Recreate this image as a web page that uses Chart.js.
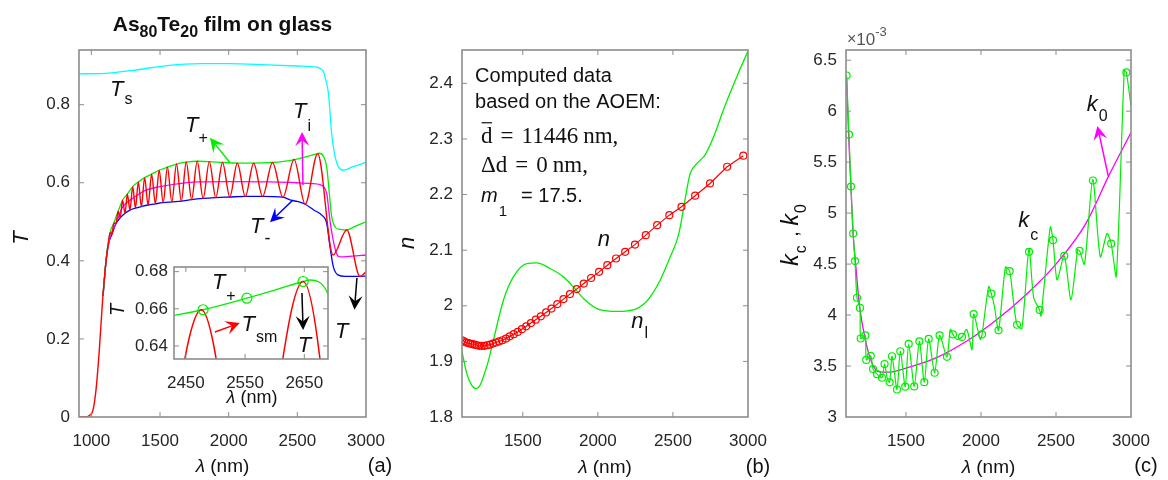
<!DOCTYPE html>
<html><head><meta charset="utf-8">
<script src="https://cdn.jsdelivr.net/npm/chart.js@4.4.1/dist/chart.umd.min.js"></script>
<style>
html,body{margin:0;padding:0;background:#fff;}
#wrap{position:relative;width:1168px;height:480px;overflow:hidden;}
canvas{position:absolute;left:0;top:0;}
</style></head><body>
<div id="wrap">
<canvas id="ca" width="1168" height="480"></canvas>
<canvas id="cb" width="1168" height="480"></canvas>
<canvas id="cc" width="1168" height="480"></canvas>
<canvas id="ci" width="1168" height="480"></canvas>
</div>
<script>
// ---------- Panel (a): transmission spectra ----------
const aXTicks=[1000,1500,2000,2500,3000];
const aXLabels=['1000','1500','2000','2500','3000'];
const aYTicks=[0,0.2,0.4,0.6,0.8];
const aYLabels=['0','0.2','0.4','0.6','0.8'];

const tsLam=[910,1100,1306,1551,1793,2000,2278,2500,2641,2665,2690,2702,2726,2750,2775,2800,2835,2906,3000];
const tsVal=[0.879,0.880,0.888,0.900,0.905,0.905,0.902,0.899,0.896,0.893,0.885,0.870,0.83,0.726,0.666,0.640,0.632,0.641,0.652];

const tpLam=[1085,1107,1136,1164,1195,1227,1262,1301,1342,1388,1439,1494,1554,1620,1691,1771,1859,1955,2063,2182,2319,2400,2479,2553,2600,2648,2660,2690,2714,2733,2750,2770,2800,2860,2920,3000];
const tpVal=[0.31,0.40,0.472,0.497,0.527,0.555,0.571,0.590,0.602,0.613,0.622,0.632,0.640,0.648,0.653,0.655,0.654,0.652,0.650,0.650,0.652,0.655,0.6595,0.6657,0.670,0.6747,0.6755,0.668,0.64,0.573,0.513,0.490,0.481,0.479,0.488,0.500];

const tmLam=[1085,1107,1122,1150,1179,1210,1245,1281,1321,1364,1413,1466,1523,1586,1655,1730,1814,1906,2008,2121,2247,2395,2447,2500,2557,2620,2678,2714,2738,2762,2795,2850,2932,3000];
const tmVal=[0.31,0.40,0.44,0.468,0.495,0.510,0.522,0.530,0.535,0.539,0.543,0.546,0.549,0.551,0.553,0.557,0.560,0.562,0.5635,0.565,0.565,0.563,0.556,0.552,0.545,0.530,0.517,0.496,0.436,0.385,0.364,0.360,0.360,0.361];

const tiLam=[1085,1107,1136,1164,1195,1228,1262,1300,1398,1500,1640,1785,2000,2300,2500,2600,2665,2690,2714,2740,2780,2810,2900,3000];
const tiVal=[0.31,0.40,0.46,0.485,0.51,0.538,0.55,0.56,0.581,0.59,0.598,0.602,0.603,0.602,0.600,0.598,0.595,0.590,0.573,0.497,0.424,0.41,0.412,0.415];

const tLam=[910,960,985,1010,1034,1058,1082,1107,1122,1136,1150,1164,1179,1195,1210,1227,1245,1262,1281,1301,1321,1342,1364,1388,1413,1439,1466,1494,1523,1554,1586,1620,1655,1691,1730,1771,1814,1859,1906,1955,2008,2063,2121,2182,2247,2319,2395,2476,2557,2648,2760,2860,2956,3000];
const tVal=[0,0,0.004,0.015,0.07,0.172,0.30,0.40,0.44,0.472,0.468,0.497,0.495,0.527,0.510,0.555,0.522,0.571,0.530,0.590,0.535,0.602,0.539,0.613,0.543,0.622,0.546,0.632,0.549,0.640,0.551,0.648,0.553,0.653,0.557,0.655,0.560,0.654,0.562,0.652,0.5635,0.650,0.565,0.650,0.565,0.652,0.563,0.6595,0.545,0.6747,0.415,0.479,0.360,0.372];

// inset
const iXTicks=[2450,2550,2650];
const iXLabels=['2450','2550','2650'];
const iYTicks=[0.64,0.66,0.68];
const iYLabels=['0.64','0.66','0.68'];
const iCircLam=[2479,2553,2648];
const iCircVal=[0.6595,0.6657,0.6747];

// ---------- Panel (b): refractive index ----------
const bXTicks=[1500,2000,2500,3000];
const bXLabels=['1500','2000','2500','3000'];
const bYTicks=[1.8,1.9,2,2.1,2.2,2.3,2.4];
const bYLabels=['1.8','1.9','2','2.1','2.2','2.3','2.4'];
const nLam=[1095,1109,1122,1136,1150,1164,1179,1195,1210,1227,1245,1262,1281,1301,1321,1342,1364,1388,1413,1439,1466,1494,1523,1554,1586,1620,1655,1691,1730,1771,1814,1859,1906,1955,2008,2063,2121,2182,2247,2319,2395,2476,2557,2648,2747,2861,2969];
const nVal=[1.938,1.936,1.934,1.933,1.932,1.931,1.930,1.929,1.928,1.928,1.928,1.929,1.930,1.932,1.934,1.936,1.938,1.941,1.945,1.949,1.953,1.958,1.963,1.969,1.975,1.981,1.988,1.995,2.003,2.012,2.021,2.030,2.040,2.050,2.061,2.073,2.085,2.097,2.110,2.127,2.145,2.163,2.178,2.198,2.220,2.250,2.270];
const nlLam=[1093,1127,1160,1189,1215,1237,1270,1304,1371,1437,1527,1593,1682,1771,1837,1904,1993,2060,2127,2200,2260,2310,2349,2415,2482,2527,2549,2580,2615,2650,2682,2715,2780,2837,2927,3000];
const nlVal=[1.92,1.878,1.857,1.851,1.857,1.872,1.90,1.938,2.01,2.052,2.076,2.077,2.067,2.052,2.034,2.013,1.995,1.991,1.990,1.991,1.995,2.004,2.016,2.046,2.088,2.118,2.142,2.19,2.238,2.253,2.262,2.272,2.31,2.353,2.413,2.458];

// ---------- Panel (c): extinction coefficient (x 10^-3) ----------
const cXTicks=[1500,2000,2500,3000];
const cXLabels=['1500','2000','2500','3000'];
const cYTicks=[3,3.5,4,4.5,5,5.5,6,6.5];
const cYLabels=['3','3.5','4','4.5','5','5.5','6','6.5'];
const kcLam=[1104,1120,1133,1148,1160,1173,1193,1198,1229,1235,1265,1280,1307,1340,1357,1375,1391,1407,1440,1462,1495,1518,1555,1589,1622,1651,1691,1724,1773,1795,1813,1840,1873,1905,1940,1951,1995,2007,2051,2069,2090,2117,2163,2191,2215,2240,2273,2320,2351,2391,2400,2462,2480,2507,2555,2600,2644,2657,2690,2745,2795,2840,2868,2902,2955,2969,3000];
const kcVal=[6.35,5.77,5.26,4.80,4.53,4.17,4.07,3.77,3.80,3.56,3.60,3.47,3.42,3.385,3.52,3.38,3.34,3.596,3.27,3.645,3.297,3.717,3.30,3.742,3.342,3.766,3.434,3.80,3.59,3.86,3.81,3.76,3.785,3.86,3.66,4.01,3.76,3.81,4.28,4.21,4.08,3.85,4.47,4.43,4.15,3.905,3.87,4.65,4.17,4.05,3.99,4.865,4.735,4.345,4.58,4.15,4.64,4.63,4.50,5.33,4.57,4.80,4.70,4.38,6.40,6.38,6.05];
const kcCircLam=[1104,1120,1133,1148,1160,1173,1193,1198,1229,1235,1265,1280,1307,1340,1357,1391,1407,1440,1462,1495,1518,1555,1589,1622,1651,1691,1724,1773,1813,1873,1951,2007,2069,2117,2191,2240,2320,2391,2480,2555,2657,2746,2868,2969];
const kcCircVal=[6.35,5.77,5.26,4.80,4.53,4.17,4.07,3.77,3.80,3.56,3.60,3.47,3.42,3.385,3.52,3.34,3.596,3.27,3.645,3.297,3.717,3.30,3.742,3.342,3.766,3.434,3.80,3.59,3.81,3.785,4.01,3.81,4.21,3.85,4.43,3.905,4.62,4.05,4.735,4.58,4.63,5.32,4.70,6.38];
const k0Lam=[1104,1117,1133,1147,1162,1191,1229,1273,1317,1380,1500,1700,1900,2100,2300,2500,2700,2850,3000];
const k0Val=[6.33,5.78,5.26,4.80,4.54,4.08,3.76,3.53,3.445,3.44,3.48,3.58,3.74,3.95,4.20,4.50,4.90,5.36,5.79];

// ---------- helpers ----------
const FONT='"Liberation Sans", Arial, Helvetica, sans-serif';
const SERIF='"Liberation Serif", "DejaVu Serif", serif';
const TXT='#111';
function pts(xs,ys){return xs.map((x,i)=>({x:x,y:ys[i]}));}
function axis(min,max,ticks,labels,fit,pad){
  return {type:'linear',min:min,max:max,
    grid:{display:false,drawTicks:false},border:{display:false},
    afterBuildTicks:(s)=>{s.ticks=ticks.map(v=>({value:v}));},
    afterFit:fit,
    ticks:{autoSkip:false,maxRotation:0,minRotation:0,padding:pad,color:'#262626',
      font:{family:FONT,size:17},
      callback:(v)=>{const i=ticks.findIndex(t=>Math.abs(t-v)<1e-9);return i>=0?labels[i]:'';}}};
}
function ln(data,color,w,extra){return Object.assign({data:data,borderColor:color,borderWidth:w,pointRadius:0,fill:false,cubicInterpolationMode:'monotone'},extra||{});}
function circ(data,color,r){return {data:data,showLine:false,borderColor:color,pointRadius:r,pointStyle:'circle',pointBorderColor:color,pointBackgroundColor:'rgba(0,0,0,0)',pointBorderWidth:1.2};}
function rich(ctx,x,y,parts,align){
  let w=0;parts.forEach(p=>{ctx.font=p[1];w+=ctx.measureText(p[0]).width+(p[3]||0);});
  let cx=align==='center'?x-w/2:(align==='right'?x-w:x);
  ctx.textBaseline='middle';ctx.textAlign='left';
  parts.forEach(p=>{ctx.font=p[1];ctx.fillText(p[0],cx,y+(p[2]||0));cx+=ctx.measureText(p[0]).width+(p[3]||0);});
  return w;
}
function rot(ctx,x,y,parts,color){ctx.save();ctx.fillStyle=color||TXT;ctx.translate(x,y);ctx.rotate(-Math.PI/2);rich(ctx,0,0,parts,'center');ctx.restore();}
function arrow(ctx,x1,y1,x2,y2,color,hl,hw){
  const a=Math.atan2(y2-y1,x2-x1),c=Math.cos(a),s=Math.sin(a);
  ctx.save();ctx.strokeStyle=color;ctx.fillStyle=color;ctx.lineWidth=1.5;
  ctx.beginPath();ctx.moveTo(x1,y1);ctx.lineTo(x2-hl*0.6*c,y2-hl*0.6*s);ctx.stroke();
  const bx=x2-hl*c,by=y2-hl*s;
  ctx.beginPath();ctx.moveTo(x2,y2);ctx.lineTo(bx-hw*s,by+hw*c);ctx.lineTo(x2-hl*0.6*c,y2-hl*0.6*s);ctx.lineTo(bx+hw*s,by-hw*c);ctx.closePath();ctx.fill();
  ctx.restore();
}
function P(ch,x,y){return [ch.scales.x.getPixelForValue(x),ch.scales.y.getPixelForValue(y)];}
function frame(xt,yt,white){
  return {id:'frame',
    beforeDraw(ch){if(!white)return;const a=ch.chartArea;ch.ctx.save();ch.ctx.fillStyle='#fff';ch.ctx.fillRect(a.left,a.top,a.right-a.left,a.bottom-a.top);ch.ctx.restore();},
    afterDraw(ch){
      const ctx=ch.ctx,a=ch.chartArea,x=ch.scales.x,y=ch.scales.y,L=5;
      ctx.save();ctx.strokeStyle='#8c8c8c';ctx.lineWidth=1;ctx.beginPath();
      xt.forEach(v=>{const p=x.getPixelForValue(v);if(p<a.left+2||p>a.right-2)return;ctx.moveTo(p,a.bottom);ctx.lineTo(p,a.bottom-L);ctx.moveTo(p,a.top);ctx.lineTo(p,a.top+L);});
      yt.forEach(v=>{const p=y.getPixelForValue(v);if(p<a.top+2||p>a.bottom-2)return;ctx.moveTo(a.left,p);ctx.lineTo(a.left+L,p);ctx.moveTo(a.right,p);ctx.lineTo(a.right-L,p);});
      ctx.stroke();
      ctx.lineWidth=1.6;ctx.strokeRect(a.left,a.top,a.right-a.left,a.bottom-a.top);
      ctx.restore();
    }};
}
function opts(xs,ys,pad){
  return {responsive:false,animation:false,events:[],layout:{padding:pad},
    plugins:{legend:{display:false},tooltip:{enabled:false}},
    scales:{x:xs,y:ys}};
}
const fitY=w=>(s)=>{s.width=w;};
const fitX=h=>(s)=>{s.height=h;};
const IT=(sz)=>'italic '+sz+'px '+FONT;
const NF=(sz)=>sz+'px '+FONT;

// ---------- chart (a) ----------
new Chart(document.getElementById('ca'),{type:'line',
  data:{datasets:[
    ln(pts(tLam,tVal),'#ff0000',1.4),
    ln(pts(tpLam,tpVal),'#00ee00',1.3),
    ln(pts(tiLam,tiVal),'#ff00ff',1.3),
    ln(pts(tmLam,tmVal),'#0000ff',1.3),
    ln(pts(tsLam,tsVal),'#00ffff',1.3)]},
  options:opts(axis(910,3000,aXTicks,aXLabels,fitX(40),14),axis(0,0.94,aYTicks,aYLabels,fitY(60),9),{left:19,right:802,top:50,bottom:23}),
  plugins:[frame(aXTicks,aYTicks,false),{id:'annoA',afterDraw(ch){
    const ctx=ch.ctx;ctx.save();ctx.fillStyle=TXT;
    rich(ctx,222.5,25,[['As','bold 21px '+FONT],['80','bold 16px '+FONT,8],['Te','bold 21px '+FONT],['20','bold 16px '+FONT,8],[' film on glass','bold 21px '+FONT]],'center');
    let p;
    p=P(ch,1136,0.839);rich(ctx,p[0],p[1],[['T',IT(22),0,1],['s',NF(16),10]]);
    p=P(ch,1682,0.745);rich(ctx,p[0],p[1],[['T',IT(22),0,0],['+',NF(16),12]]);
    p=P(ch,2468,0.782);rich(ctx,p[0],p[1],[['T',IT(22),0,1],['i',NF(16),15]]);
    p=P(ch,2155,0.488);rich(ctx,p[0],p[1],[['T',IT(22),0,1],['-',NF(18),13]]);
    p=P(ch,2774,0.218);rich(ctx,p[0],p[1],[['T',IT(22)]]);
    let t,h;
    t=P(ch,2010,0.651);h=P(ch,1864,0.715);arrow(ctx,t[0],t[1],h[0],h[1],'#00ee00',14,7);
    t=P(ch,2541,0.594);h=P(ch,2534,0.730);arrow(ctx,t[0],t[1],h[0],h[1],'#ff00ff',14,7);
    t=P(ch,2468,0.556);h=P(ch,2301,0.499);arrow(ctx,t[0],t[1],h[0],h[1],'#0000ff',14,7);
    t=P(ch,2934,0.356);h=P(ch,2916,0.275);arrow(ctx,t[0],t[1],h[0],h[1],'#000000',14,7);
    const a=ch.chartArea;
    rot(ctx,22,238,[['T',IT(22)]]);
    ctx.fillStyle=TXT;
    rich(ctx,(a.left+a.right)/2,467,[['λ',IT(19)],[' (nm)',NF(19)]],'center');
    rich(ctx,380,466,[['(a)',NF(20)]],'center');
    ctx.restore();
  }}]});

// ---------- inset ----------
new Chart(document.getElementById('ci'),{type:'line',
  data:{datasets:[
    circ(pts(iCircLam,iCircVal),'#00ee00',5),
    ln(pts(tLam,tVal),'#ff0000',1.5),
    ln(pts(tpLam,tpVal),'#00ee00',1.3)]},
  options:opts(axis(2430,2690,iXTicks,iXLabels,fitX(30),14),axis(0.633,0.6825,iYTicks,iYLabels,fitY(50),6),{left:124,right:840,top:267,bottom:91}),
  plugins:[frame(iXTicks,iYTicks,true),{id:'annoI',afterDraw(ch){
    const ctx=ch.ctx;ctx.save();ctx.fillStyle=TXT;let p,t,h;
    p=P(ch,2494,0.6737);rich(ctx,p[0],p[1],[['T',IT(22),0,1],['+',NF(16),13]]);
    p=P(ch,2544,0.6513);rich(ctx,p[0],p[1],[['T',IT(22),0,1],['sm',NF(16),13]]);
    p=P(ch,2639,0.6403);rich(ctx,p[0],p[1],[['T',IT(22)]]);
    t=P(ch,2499,0.6475);h=P(ch,2541,0.6524);arrow(ctx,t[0],t[1],h[0],h[1],'#ff0000',14,7);
    t=P(ch,2646,0.6685);h=P(ch,2648,0.6486);arrow(ctx,t[0],t[1],h[0],h[1],'#000000',14,7);
    rot(ctx,118,310,[['T',IT(20)]]);
    ctx.fillStyle=TXT;
    rich(ctx,252,398,[['λ',IT(18)],[' (nm)',NF(18)]],'center');
    ctx.restore();
  }}]});

// ---------- chart (b) ----------
new Chart(document.getElementById('cb'),{type:'line',
  data:{datasets:[
    circ(pts(nLam,nVal),'#ff0000',3.5),
    ln(pts(nLam,nVal),'#ff0000',1.2,{cubicInterpolationMode:'default',tension:0}),
    ln(pts(nlLam,nlVal),'#00ee00',1.3)]},
  options:opts(axis(1095,3000,bXTicks,bXLabels,fitX(40),14),axis(1.8,2.46,bYTicks,bYLabels,fitY(60),9),{left:402,right:420,top:50,bottom:23}),
  plugins:[frame(bXTicks,bYTicks,false),{id:'annoB',afterDraw(ch){
    const ctx=ch.ctx,a=ch.chartArea;ctx.save();ctx.fillStyle=TXT;let p;
    const S='23px '+SERIF;
    p=P(ch,1182,2.413);rich(ctx,p[0],p[1],[['Computed data',NF(20)]]);
    p=P(ch,1182,2.365);rich(ctx,p[0],p[1],[['based on the AOEM:',NF(20)]]);
    p=P(ch,1222,2.304);
    rich(ctx,p[0],p[1],[['d',S,0,8],['=',S,0,8],['11446',S,0,5],['nm,',S]]);
    ctx.strokeStyle=TXT;ctx.lineWidth=1.2;ctx.beginPath();ctx.moveTo(p[0]+0.5,p[1]-14);ctx.lineTo(p[0]+11,p[1]-14);ctx.stroke();
    p=P(ch,1222,2.251);
    rich(ctx,p[0],p[1],[['Δd',S,0,8],['=',S,0,8],['0',S,0,5],['nm,',S]]);
    p=P(ch,1222,2.196);
    rich(ctx,p[0],p[1],[['m',IT(20),0,1],['1',NF(15),15,14],['= 17.5.',NF(20)]]);
    p=P(ch,2000,2.118);rich(ctx,p[0],p[1],[['n',IT(22)]]);
    p=P(ch,2222,1.971);rich(ctx,p[0],p[1],[['n',IT(22),0,1],['l',NF(16),12]]);
    rot(ctx,408,243,[['n',IT(22)]]);
    ctx.fillStyle=TXT;
    rich(ctx,(a.left+a.right)/2,468,[['λ',IT(19)],[' (nm)',NF(19)]],'center');
    rich(ctx,758,467,[['(b)',NF(20)]],'center');
    ctx.restore();
  }}]});

// ---------- chart (c) ----------
new Chart(document.getElementById('cc'),{type:'line',
  data:{datasets:[
    circ(pts(kcCircLam,kcCircVal),'#00ee00',3.5),
    ln(pts(kcLam,kcVal),'#00ee00',1.2,{cubicInterpolationMode:'default',tension:0.25}),
    ln(pts(k0Lam,k0Val),'#ff00ff',1.3)]},
  options:opts(axis(1100,3000,cXTicks,cXLabels,fitX(40),14),axis(3,6.6,cYTicks,cYLabels,fitY(60),9),{left:786,right:37,top:50,bottom:23}),
  plugins:[frame(cXTicks,cYTicks,false),{id:'annoC',afterDraw(ch){
    const ctx=ch.ctx,a=ch.chartArea;ctx.save();ctx.fillStyle=TXT;let p,t,h;
    p=P(ch,2705,6.06);rich(ctx,p[0],p[1],[['k',IT(22),0,1],['0',NF(16),12]]);
    p=P(ch,2249,4.92);rich(ctx,p[0],p[1],[['k',IT(22),0,1],['c',NF(16),14]]);
    t=P(ch,2849,5.36);h=P(ch,2776,5.855);arrow(ctx,t[0],t[1],h[0],h[1],'#ff00ff',14,7);
    ctx.fillStyle='#555';
    rich(ctx,847,40,[['×',NF(16)],['10',NF(17)],['-3',NF(13),-8]]);
    rot(ctx,792,235,[['k',IT(23),0,1],['c',NF(16),10,3],[' , ',NF(20)],['k',IT(23),0,1],['0',NF(16),10]]);
    ctx.fillStyle=TXT;
    rich(ctx,(a.left+a.right)/2,468,[['λ',IT(19)],[' (nm)',NF(19)]],'center');
    rich(ctx,1146,466,[['(c)',NF(20)]],'center');
    ctx.restore();
  }}]});
</script>
</body></html>
